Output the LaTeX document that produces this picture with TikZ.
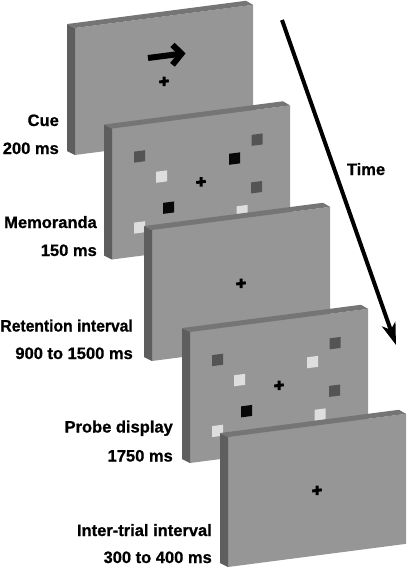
\documentclass[tikz,border=0pt]{standalone}
\usepackage{fontspec}
\setmainfont{Liberation Sans}[BoldFeatures={FakeBold=0.8}]
\usetikzlibrary{arrows.meta}
\definecolor{face}{gray}{0.59}
\definecolor{sideface}{gray}{0.37}
\definecolor{topface}{gray}{0.46}
\definecolor{sqdark}{gray}{0.33}
\definecolor{sqblack}{gray}{0.03}
\definecolor{sqlight}{gray}{0.87}
\tikzset{
  lbl/.style={font=\fontsize{16.5}{18}\selectfont\bfseries, anchor=base east, inner sep=0pt},
  crossmark/.style={line width=3pt, black},
  panelat/.style 2 args={shift={(#1,#2)}, x={(1pt,0.13pt)}, y={(0pt,-1pt)}},
}
\newcommand\panelbody[1]{%
  \fill[face] (0,0) -- (178,0) -- (178,#1) -- (0,#1) -- cycle;
  \fill[sideface] (0,0) -- (-8,-5) -- (-8,#1-5) -- (0,#1) -- cycle;
  \fill[topface] (0,0) -- (178,0) -- (171,-5) -- (-8,-5) -- cycle;
}
\newcommand\fixcross{%
  \draw[crossmark] (84.2,65) -- (93.8,65) (89,60.2) -- (89,69.8);
}
\newcommand\memsq[3]{\fill[#1] (#2-5.5,#3-5.5) -- ++(11,0) -- ++(0,11) -- ++(-11,0) -- cycle;}
\begin{document}
\begin{tikzpicture}[x=1pt,y=-1pt]
\useasboundingbox (0,0) rectangle (408,568);
% panel 1: cue
\begin{scope}[panelat={75}{28}]
  \panelbody{127}
  \draw[line width=6pt] (73,39.5) -- (104,39.5);
  \draw[line width=6pt, miter limit=10] (97.5,29.5) -- (106.5,39.5) -- (97.5,49.5);
  \fixcross
\end{scope}
% panel 2: memoranda
\begin{scope}[panelat={112}{128.5}]
  \panelbody{131}
  \memsq{sqdark}{27.5}{31.5}
  \memsq{sqdark}{145}{30}
  \memsq{sqblack}{122.5}{46}
  \memsq{sqlight}{49.5}{54.5}
  \memsq{sqdark}{144.5}{77.5}
  \memsq{sqblack}{56.5}{86.5}
  \memsq{sqlight}{130}{99.5}
  \memsq{sqlight}{27.5}{102.5}
  \fixcross
\end{scope}
% panel 3: retention
\begin{scope}[panelat={152}{230}]
  \panelbody{131}
  \fixcross
\end{scope}
% panel 4: probe
\begin{scope}[panelat={190}{332}]
  \panelbody{131}
  \memsq{sqdark}{27.5}{31.5}
  \memsq{sqdark}{145}{30}
  \memsq{sqlight}{122.5}{46}
  \memsq{sqlight}{49.5}{54.5}
  \memsq{sqdark}{144.5}{77.5}
  \memsq{sqblack}{56.5}{86.5}
  \memsq{sqlight}{130}{99.5}
  \memsq{sqlight}{27.5}{102.5}
  \fixcross
\end{scope}
% panel 5: inter-trial
\begin{scope}[panelat={228}{437}]
  \panelbody{130}
  \fixcross
\end{scope}
% labels
\node[lbl] (cue) at (59,126) {Cue};
\node[lbl] (cuet) at (59,154) {200 ms};
\node[lbl] (mem) at (97,228) {Memoranda};
\node[lbl] (memt) at (97,256) {150 ms};
\node[lbl] (ret) at (133,331.5) {\scalebox{0.95}[1]{Retention interval}};
\node[lbl] (rett) at (133,359) {900 to 1500 ms};
\node[lbl] (probe) at (173,432.5) {Probe display};
\node[lbl] (probet) at (173,461.5) {1750 ms};
\node[lbl] (iti) at (212,536) {Inter-trial interval};
\node[lbl] (itit) at (212,563) {300 to 400 ms};
% time arrow
\coordinate (t0) at (282,20);
\coordinate (t1) at (396,345);
\draw[line width=4pt, -{Stealth[length=22pt,width=14pt,inset=6pt]}] (t0) -- (t1);
\node[lbl, anchor=base] (time) at (366,175) {Time};
\end{tikzpicture}
\end{document}
